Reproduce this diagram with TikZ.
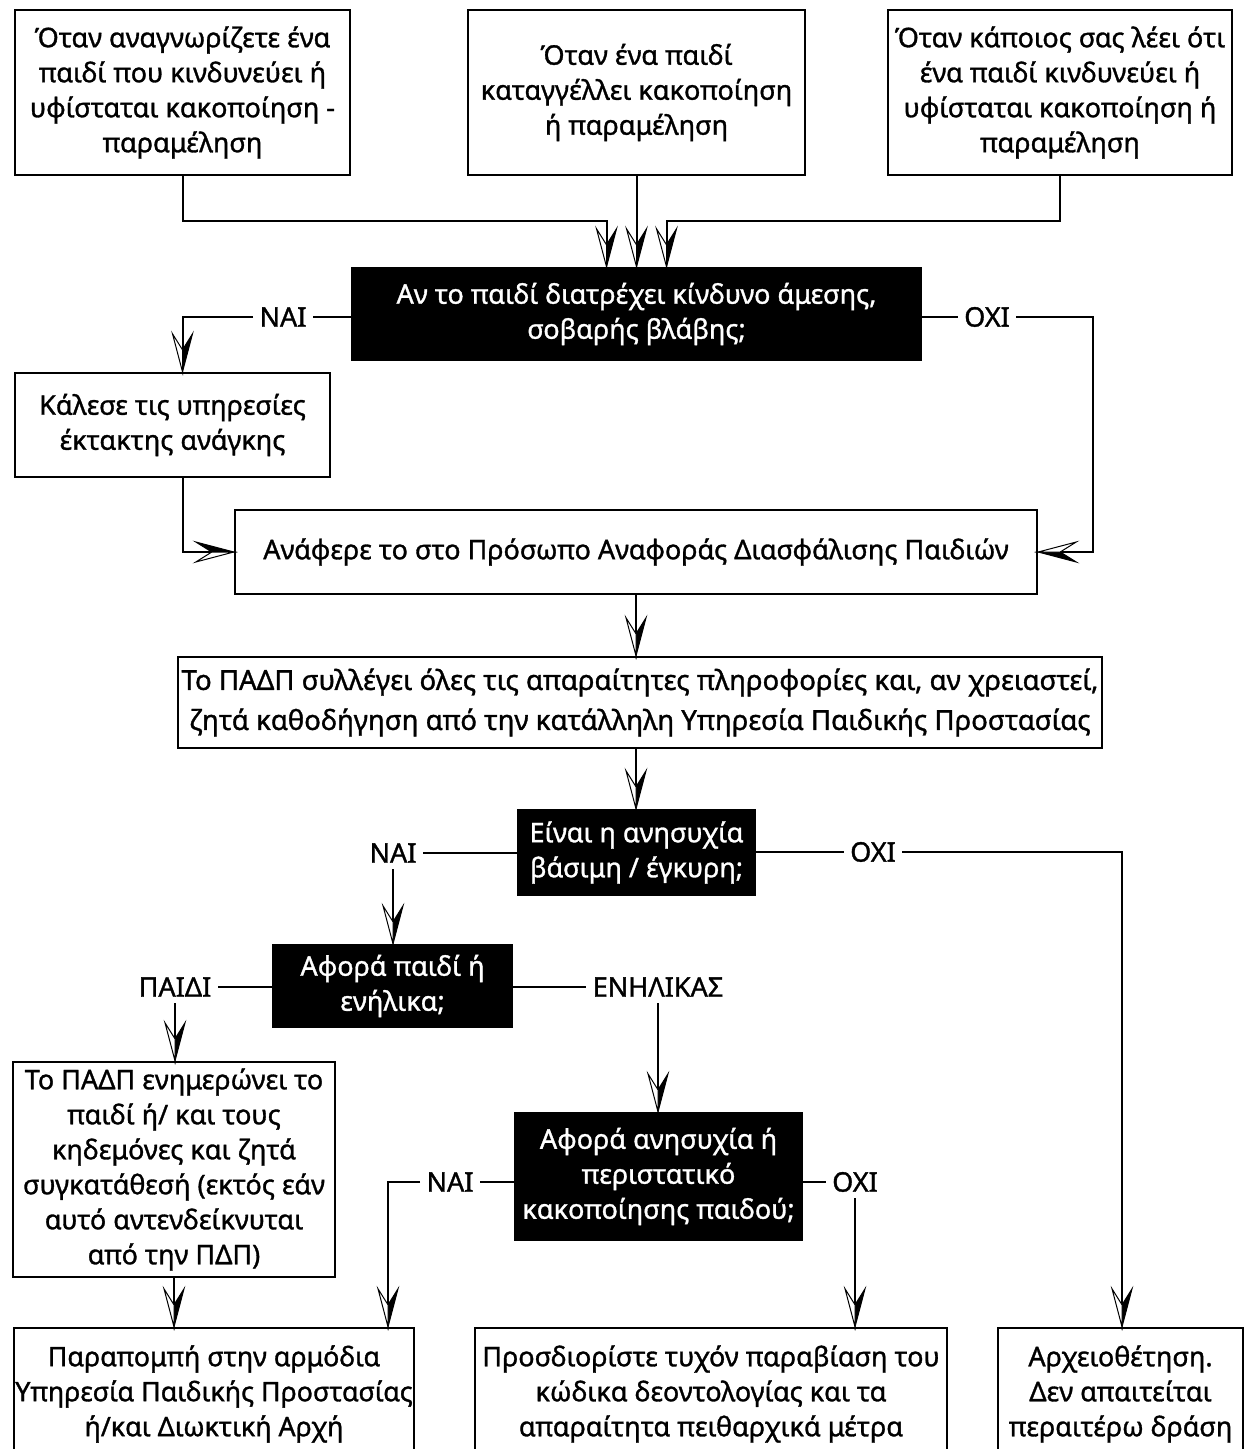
\documentclass[tikz,border=0pt]{standalone}
\usepackage{fontspec}
\setmainfont{Noto Sans}[FakeBold=1.2]
\usetikzlibrary{arrows.meta}

\pgfdeclarearrow{
  name = HalfStealth,
  parameters = {\the\pgfarrowlength,\the\pgfarrowwidth,\the\pgfarrowinset},
  setup code = {
    \pgfarrowssettipend{0pt}
    \pgfarrowssetlineend{-0.6\pgfarrowlength}
    \pgfarrowssetbackend{-\pgfarrowlength}
    \pgfarrowshullpoint{0pt}{0pt}
    \pgfarrowshullpoint{-\pgfarrowlength}{.5\pgfarrowwidth}
    \pgfarrowshullpoint{-\pgfarrowlength}{-.5\pgfarrowwidth}
    \pgfarrowssavethe\pgfarrowlength
    \pgfarrowssavethe\pgfarrowwidth
    \pgfarrowssavethe\pgfarrowinset
  },
  drawing code = {
    \pgfsetdash{}{0pt}
    \pgfsetlinewidth{0.5pt}
    \pgfsetmiterjoin
    \pgfpathmoveto{\pgfpointorigin}
    \pgfpathlineto{\pgfpoint{-\pgfarrowlength}{.5\pgfarrowwidth}}
    \pgfpathlineto{\pgfpoint{\pgfarrowinset-\pgfarrowlength}{0pt}}
    \pgfpathclose
    \pgfsetfillcolor{black}
    \pgfusepathqfillstroke
    \pgfpathmoveto{\pgfpointorigin}
    \pgfpathlineto{\pgfpoint{-\pgfarrowlength}{-.5\pgfarrowwidth}}
    \pgfpathlineto{\pgfpoint{\pgfarrowinset-\pgfarrowlength}{0pt}}
    \pgfpathclose
    \pgfsetfillcolor{white}
    \pgfusepathqfillstroke
  },
  defaults = {length = 19pt, width = 10pt, inset = 8pt}
}

\tikzset{
  txt/.style={font=\fontsize{13.5}{17.5}\selectfont},
  box/.style={draw, line width=1.2pt, align=center, inner sep=0pt, fill=white, txt},
  qbox/.style={box, fill=black, text=white},
  lab/.style={inner sep=3pt, txt},
  plain/.style={line width=1pt},
  conn/.style={line width=1pt, -{HalfStealth}},
}

\begin{document}
\begin{tikzpicture}[x=0.5pt,y=-0.5pt]
\useasboundingbox (0,0) rectangle (1247,1449);
\clip (0,0) rectangle (1247,1449);
\fill[white] (0,0) rectangle (1247,1449);

% top boxes
\node[box, minimum width=167.5pt, minimum height=82.5pt] (A) at (182.5,92.5)
  {Όταν αναγνωρίζετε ένα\\ παιδί που κινδυνεύει ή\\ υφίσταται κακοποίηση -\\ παραμέληση};
\node[box, minimum width=168.5pt, minimum height=82.5pt] (B) at (636.5,92.5)
  {Όταν ένα παιδί\\ καταγγέλλει κακοποίηση\\ ή παραμέληση};
\node[box, minimum width=172pt, minimum height=82.5pt] (C) at (1060,92.5)
  {Όταν κάποιος σας λέει ότι\\ ένα παιδί κινδυνεύει ή\\ υφίσταται κακοποίηση ή\\ παραμέληση};

\node[qbox, minimum width=284.5pt, minimum height=46pt] (Q1) at (636.5,314)
  {Αν το παιδί διατρέχει κίνδυνο άμεσης,\\ σοβαρής βλάβης;};
\node[box, minimum width=157.5pt, minimum height=52pt] (K) at (172.5,425)
  {Κάλεσε τις υπηρεσίες\\ έκτακτης ανάγκης};
\node[box, minimum width=401pt, minimum height=42pt] (R) at (636,552)
  {Ανάφερε το στο Πρόσωπο Αναφοράς Διασφάλισης Παιδιών};
\node[box, minimum width=462pt, minimum height=45.5pt, font=\fontsize{13.8}{20}\selectfont] (P) at (640,702.5)
  {Το ΠΑΔΠ συλλέγει όλες τις απαραίτητες πληροφορίες και, αν χρειαστεί,\\ ζητά καθοδήγηση από την κατάλληλη Υπηρεσία Παιδικής Προστασίας};
\node[qbox, minimum width=118.5pt, minimum height=42.5pt] (Q2) at (636.5,852.5)
  {Είναι η ανησυχία\\ βάσιμη / έγκυρη;};
\node[qbox, minimum width=119.5pt, minimum height=41pt] (Q3) at (392.5,986)
  {Αφορά παιδί ή\\ ενήλικα;};
\node[box, minimum width=161pt, minimum height=107.5pt] (T) at (174,1169.5)
  {Το ΠΑΔΠ ενημερώνει το\\ παιδί ή/ και τους\\ κηδεμόνες και ζητά\\ συγκατάθεσή (εκτός εάν\\ αυτό αντενδείκνυται\\ από την ΠΔΠ)};
\node[qbox, minimum width=143.5pt, minimum height=63.5pt] (Q4) at (658.5,1176.5)
  {Αφορά ανησυχία ή\\ περιστατικό\\ κακοποίησης παιδού;};
\node[box, minimum width=200pt, minimum height=66pt, font=\fontsize{13.4}{17.5}\selectfont] (BL) at (214,1394)
  {Παραπομπή στην αρμόδια\\ Υπηρεσία Παιδικής Προστασίας\\ ή/και Διωκτική Αρχή};
\node[box, minimum width=236pt, minimum height=66pt] (BM) at (711,1394)
  {Προσδιορίστε τυχόν παραβίαση του\\ κώδικα δεοντολογίας και τα\\ απαραίτητα πειθαρχικά μέτρα};
\node[box, minimum width=122.5pt, minimum height=66pt] (BR) at (1120.5,1394)
  {Αρχειοθέτηση.\\ Δεν απαιτείται\\ περαιτέρω δράση};

% labels
\node[lab] (y1) at (283,317) {ΝΑΙ};
\node[lab] (n1) at (987,317) {ΟΧΙ};
\node[lab] (y2) at (393,853) {ΝΑΙ};
\node[lab] (n2) at (873,852) {ΟΧΙ};
\node[lab] (ch) at (175,987) {ΠΑΙΔΙ};
\node[lab] (ad) at (658,987) {ΕΝΗΛΙΚΑΣ};
\node[lab] (y3) at (450,1182) {ΝΑΙ};
\node[lab] (n3) at (855,1182) {ΟΧΙ};

\coordinate (c1) at (1093,317);
\coordinate (c2) at (1122,852);
\coordinate (c3) at (388,1182);

% connectors
\draw[conn] (A.south) -- ++(0,45) -| ([xshift=-15pt]Q1.north);
\draw[conn] (B.south) -- (Q1.north);
\draw[conn] (C.south) -- ++(0,45) -| ([xshift=15pt]Q1.north);
\draw[plain] (y1.east -| Q1.west) -- (y1.east);
\draw[conn] (y1.west) -| ([xshift=5pt]K.north);
\draw[conn] ([xshift=5pt]K.south) |- (R.west);
\draw[plain] (n1.west -| Q1.east) -- (n1.west);
\draw[conn] (n1.east) -- (c1) |- (R.east);
\draw[conn] (R.south) -- (R.south |- P.north);
\draw[conn] (R.south |- P.south) -- (R.south |- Q2.north);
\draw[plain] (y2.east -| Q2.west) -- (y2.east);
\draw[conn] (y2.south) -- (y2.south |- Q3.north);
\draw[plain] (n2.west -| Q2.east) -- (n2.west);
\draw[conn] (n2.east) -- (c2) -- (c2 |- BR.north);
\draw[plain] (ch.east -| Q3.west) -- (ch.east);
\draw[conn] (ch.south) -- (ch.south |- T.north);
\draw[plain] (ad.west -| Q3.east) -- (ad.west);
\draw[conn] (ad.south) -- (ad.south |- Q4.north);
\draw[conn] (T.south) -- (T.south |- BL.north);
\draw[plain] (y3.east -| Q4.west) -- (y3.east);
\draw[conn] (y3.west) -- (c3) -- (c3 |- BL.north);
\draw[plain] (n3.west -| Q4.east) -- (n3.west);
\draw[conn] (n3.south) -- (n3.south |- BM.north);
\end{tikzpicture}
\end{document}
